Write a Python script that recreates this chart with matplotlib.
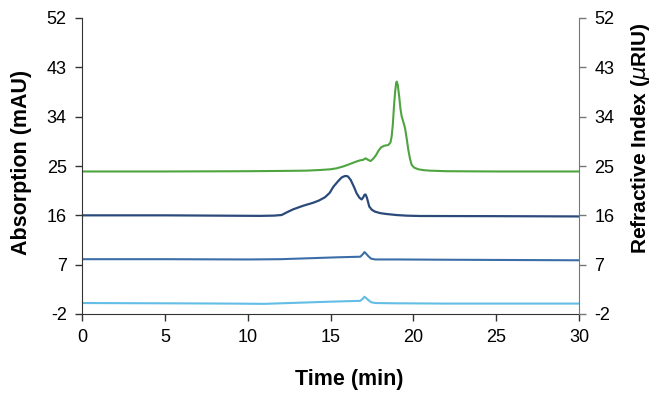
import matplotlib
matplotlib.use("Agg")
import matplotlib.pyplot as plt

# ---- data ----
green_t = [0, 5, 10, 12, 13.5, 14.37, 15.0, 15.37, 15.8, 16.18, 16.5, 16.78, 16.95, 17.12, 17.28,
           17.42, 17.6, 17.75, 17.9, 18.05, 18.25, 18.49, 18.62, 18.69, 18.76, 18.83, 18.9, 18.96,
           19.0, 19.06, 19.15, 19.22, 19.3, 19.4, 19.5, 19.6, 19.7, 19.8, 19.9, 20.05, 20.3, 20.6,
           21.0, 22, 25, 30]
green_v = [24.0, 24.0, 24.05, 24.1, 24.15, 24.27, 24.4, 24.58, 24.95, 25.37, 25.75, 26.03, 26.1, 26.4, 26.1,
           25.9, 26.4, 27.0, 27.8, 28.4, 28.7, 28.83, 29.3, 30.35, 32.5, 35.8, 38.5, 40.1,
           40.4, 39.8, 37.6, 35.5, 34.0, 33.0, 31.9, 30.0, 27.9, 26.3, 25.2, 24.7, 24.4, 24.25,
           24.15, 24.05, 24.0, 24.0]

navy_t = [0, 5, 10.74, 11.6, 12.05, 12.4, 12.75, 13.36, 13.96, 14.3, 14.67, 14.95, 15.17, 15.45,
          15.67, 15.85, 15.94, 16.05, 16.22, 16.4, 16.58, 16.75, 16.88, 16.98, 17.05, 17.12, 17.2,
          17.34, 17.5, 17.69, 18.0, 18.39, 19.0, 19.6, 20.4, 25, 30]
navy_v = [16.0, 16.0, 15.9, 15.95, 16.06, 16.6, 17.1, 17.76, 18.3, 18.7, 19.3, 20.1, 21.2, 22.2,
          22.9, 23.15, 23.18, 23.1, 22.45, 21.3, 20.0, 19.2, 18.9, 19.3, 19.75, 19.8, 19.2,
          17.6, 17.0, 16.67, 16.4, 16.24, 16.05, 15.94, 15.88, 15.85, 15.8]

blue_t = [0, 5, 10, 12, 14, 15.5, 16.8, 16.95, 17.05, 17.15, 17.3, 17.45, 17.7, 19, 22, 26, 30]
blue_v = [8.0, 8.0, 7.95, 8.0, 8.2, 8.35, 8.45, 8.9, 9.3, 9.0, 8.5, 8.1, 7.95, 7.95, 7.9, 7.85, 7.8]

light_t = [0, 5, 9, 11, 13, 15, 16.8, 16.95, 17.05, 17.15, 17.3, 17.45, 17.7, 19, 22, 26, 30]
light_v = [0.0, -0.05, -0.1, -0.15, 0.05, 0.25, 0.4, 0.8, 1.15, 0.9, 0.5, 0.15, 0.0, -0.05, -0.1, -0.1, -0.1]

x_ticks = [0, 5, 10, 15, 20, 25, 30]
y_ticks = [-2, 7, 16, 25, 34, 43, 52]

plt.rcParams['font.family'] = ['Liberation Sans', 'DejaVu Sans']

fig = plt.figure(figsize=(6.61, 3.95), dpi=100)
ax = fig.add_axes([82/661, 1-314/395, (579-82)/661, (314-18)/395])

ax.plot(light_t, light_v, color='#63bde6', lw=1.5)
ax.plot(blue_t, blue_v, color='#3b6ea8', lw=1.5)
ax.plot(navy_t, navy_v, color='#2b4a7a', lw=1.6)
ax.plot(green_t, green_v, color='#4ea53f', lw=1.5)

ax.set_xlim(0, 30)
ax.set_ylim(-2, 52)
ax.set_xticks(x_ticks)
ax.set_yticks(y_ticks)
ax.set_xticklabels([str(v) for v in x_ticks], fontsize=13)
ax.set_yticklabels([str(v) for v in y_ticks], fontsize=13)

ax.spines['top'].set_visible(False)
ax.spines['right'].set_visible(False)
ax.spines['left'].set_color('#333333')
ax.spines['bottom'].set_color('#333333')
ax.tick_params(axis='both', direction='out', length=5, color='#333333', width=1, pad=6)

ax2 = ax.twinx()
ax2.set_ylim(-2, 52)
ax2.set_yticks(y_ticks)
ax2.set_yticklabels([str(v) for v in y_ticks], fontsize=13)
for s in ['top', 'left', 'bottom']:
    ax2.spines[s].set_visible(False)
ax2.spines['right'].set_color('#777777')
ax2.tick_params(axis='y', direction='out', length=5, color='#777777', width=1, pad=6)

fig.text(22/661, 1-162/395, 'Absorption (mAU)', rotation=90, fontsize=15.5,
         fontweight='bold', ha='center', va='center')
fig.text(641/661, 1-138/395, r'Refractive Index ($\mathit{\mu}$RIU)', rotation=90, fontsize=15,
         fontweight='bold', ha='center', va='center')
fig.text(349/661, 1-380/395, 'Time (min)', fontsize=15.5, fontweight='bold',
         ha='center', va='center')

fig.savefig('out.png', dpi=100)
